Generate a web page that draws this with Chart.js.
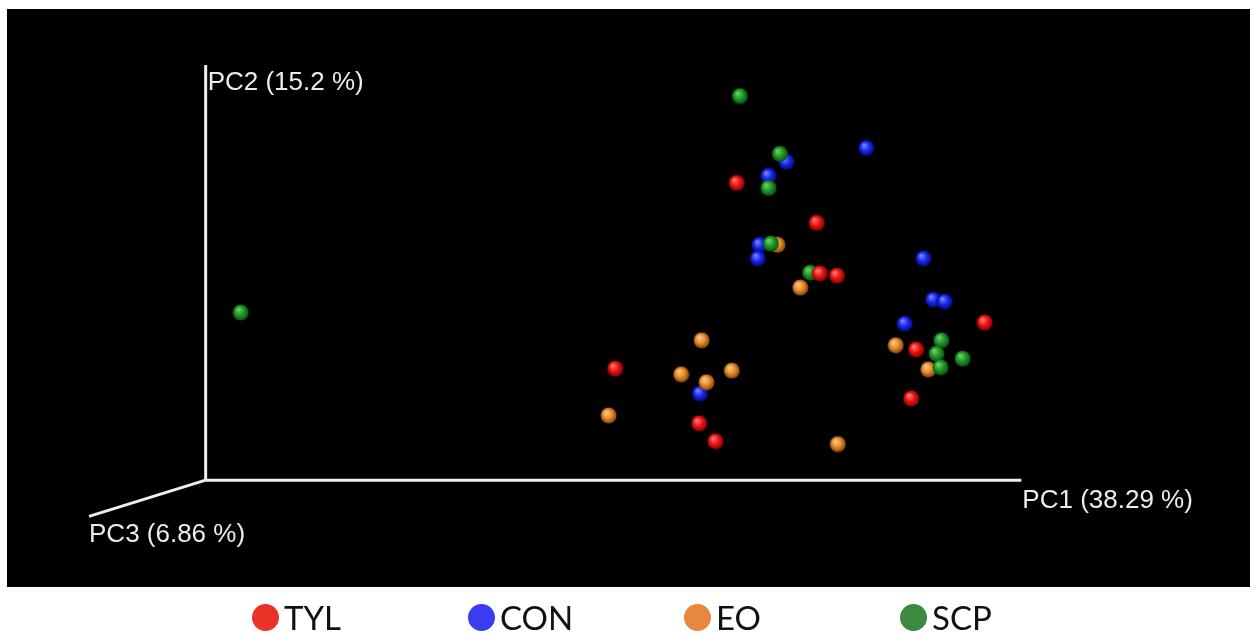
<!DOCTYPE html>
<html>
<head>
<meta charset="utf-8">
<script src="https://cdn.jsdelivr.net/npm/chart.js@4.4.1/dist/chart.umd.min.js"></script>
<style>
  body { margin: 0; background: #fff; }
  #wrap { position: relative; width: 1250px; height: 635px; }
  #legend { position: absolute; left: 252px; top: 602px; display: flex; }
  .item { width: 216px; display: flex; align-items: center; font-family: Lato, "Open Sans", sans-serif; font-size: 33px; color: #111; line-height: 30px; }
  .dot { width: 27px; height: 27px; border-radius: 50%; margin-right: 5px; }
</style>
</head>
<body>
<div id="wrap">
  <canvas id="pcoa"></canvas>
  <div id="legend"></div>
</div>
<script>
// group names and legend colours
const groups = ['TYL', 'CON', 'EO', 'SCP'];
const legendColors = ['#ea3228', '#3b3cf2', '#e8873f', '#3b8a3f'];

// projected PCoA scores (PC1 along the floor axis, PC2 up), axis length = 100
const tylPoints = [[65.1, 71.6], [74.9, 62.0], [75.3, 49.8], [77.4, 49.3], [50.2, 26.9],
                   [60.5, 13.7], [62.5, 9.4], [95.5, 38.0], [87.1, 31.5], [86.5, 19.7]];
const conPoints = [[71.2, 76.7], [81.0, 80.0], [69.0, 73.3], [67.9, 56.7], [67.7, 53.4],
                   [60.6, 20.9], [88.0, 53.4], [89.2, 43.5], [90.6, 43.0], [85.7, 37.7]];
const eoPoints  = [[70.1, 56.7], [72.9, 46.4], [60.8, 33.7], [58.3, 25.5], [64.5, 26.4],
                   [61.4, 23.6], [49.4, 15.6], [77.5, 8.7], [84.6, 32.5], [88.6, 26.7]];
const scpPoints = [[65.5, 92.5], [70.4, 78.6], [69.0, 70.4], [69.3, 57.0], [74.1, 50.0],
                   [90.2, 33.7], [89.6, 30.5], [92.8, 29.3], [90.1, 27.2], [4.3, 40.4]];

// axis titles and the end of the PC3 axis (in the same projected units)
const axisTitles = ['PC1 (38.29 %)', 'PC2 (15.2 %)', 'PC3 (6.86 %)'];
const pc3End = [-14.3, -8.7];

function sphere(light, base, dark) {
    const c = document.createElement('canvas');
    c.width = c.height = 17;
    const g = c.getContext('2d');
    const grd = g.createRadialGradient(6, 5.5, 0.5, 8.5, 8.5, 8.5);
    grd.addColorStop(0, light);
    grd.addColorStop(0.5, base);
    grd.addColorStop(1, dark);
    g.fillStyle = grd;
    g.beginPath();
    g.arc(8.5, 8.5, 8, 0, Math.PI * 2);
    g.fill();
    return c;
}

const spheres = [
    sphere('#ff8078', '#f01515', '#7a0000'),
    sphere('#7c86ff', '#1a28f0', '#000870'),
    sphere('#ffc88a', '#e8902c', '#7a4008'),
    sphere('#70d070', '#1f9a28', '#0a4a0a')
];

const toXY = p => ({x: p[0], y: p[1]});
const allPoints = [tylPoints, conPoints, eoPoints, scpPoints];
const drawOrder = [0, 3, 2, 1];

const background = {
    id: 'background',
    beforeDraw(chart) {
        const ctx = chart.ctx;
        ctx.save();
        ctx.fillStyle = '#000';
        ctx.fillRect(7, 9, 1243, 578);
        ctx.restore();
    }
};

const axes3d = {
    id: 'axes3d',
    beforeDatasetsDraw(chart) {
        const ctx = chart.ctx;
        const sx = chart.scales.x, sy = chart.scales.y;
        const ox = sx.getPixelForValue(0), oy = sy.getPixelForValue(0);
        const x1 = sx.getPixelForValue(100), y2 = sy.getPixelForValue(100);
        const x3 = sx.getPixelForValue(pc3End[0]), y3 = sy.getPixelForValue(pc3End[1]);
        ctx.save();
        ctx.strokeStyle = '#eeeeee';
        ctx.lineWidth = 3;
        ctx.beginPath();
        ctx.moveTo(ox, y2); ctx.lineTo(ox, oy); ctx.lineTo(x1, oy);
        ctx.moveTo(ox, oy); ctx.lineTo(x3, y3);
        ctx.stroke();
        ctx.fillStyle = '#ececec';
        ctx.font = '26px "Liberation Sans", Arial, sans-serif';
        ctx.textBaseline = 'alphabetic';
        ctx.fillText(axisTitles[0], x1 + 1, oy + 28);
        ctx.fillText(axisTitles[1], ox + 2, y2 + 25);
        ctx.fillText(axisTitles[2], x3, y3 + 26);
        ctx.restore();
    }
};

const ctx = document.getElementById('pcoa').getContext('2d');
const chart = new Chart(ctx, {
    type: 'scatter',
    data: {
        datasets: groups.map((g, i) => ({
            label: g,
            data: allPoints[i].map(toXY),
            pointStyle: spheres[i],
            pointRadius: 8,
            order: drawOrder[i]
        }))
    },
    options: {
        responsive: true,
        maintainAspectRatio: false,
        animation: false,
        events: [],
        layout: { padding: { left: 8, top: 8, right: 8, bottom: 48 } },
        scales: {
            x: { display: false, min: -24.11, max: 126.93 },
            y: { display: false, min: -25.72, max: 113.46 }
        },
        plugins: {
            legend: { display: false },
            tooltip: { enabled: false }
        }
    },
    plugins: [background, axes3d]
});

// html legend under the black plot
const legendEl = document.getElementById('legend');
chart.data.datasets.forEach((ds, i) => {
    const item = document.createElement('div');
    item.className = 'item';
    const dot = document.createElement('span');
    dot.className = 'dot';
    dot.style.background = legendColors[i];
    const txt = document.createElement('span');
    txt.textContent = ds.label;
    item.appendChild(dot);
    item.appendChild(txt);
    legendEl.appendChild(item);
});
</script>
</body>
</html>
